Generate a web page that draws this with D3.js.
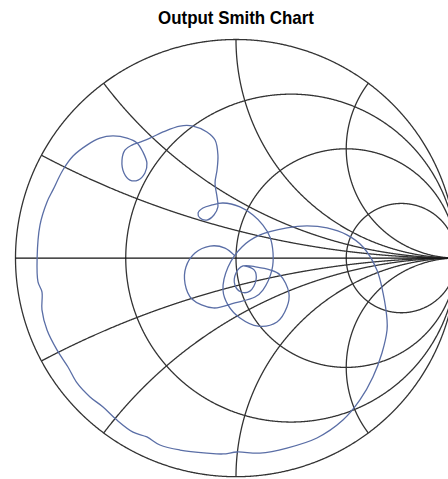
<!DOCTYPE html>
<html>
<head>
<meta charset="utf-8">
<script src="https://cdn.jsdelivr.net/npm/d3@7"></script>
<style>
  body { margin: 0; background: #fff; }
</style>
</head>
<body>
<script>
// Grid values
const resistances = [1 / 3, 1, 3];
const reactances = [0.25, 0.5, 1, 2, -0.25, -0.5, -1, -2];

// Reflection coefficient trace (real, imaginary)
const traceRe = [0.036, 0.082, 0.091, 0.063, 0.023, -0.005, 0, 0.032, 0.095, 0.154, 0.200, 0.240, 0.231, 0.186, 0.100, 0.018, -0.036, -0.059, -0.036, 0.027, 0.109, 0.231, 0.322, 0.413, 0.503, 0.576, 0.639, 0.667, 0.685, 0.685, 0.662, 0.621, 0.562, 0.485, 0.367, 0.231, 0.109, 0.005, -0.059, -0.132, -0.254, -0.345, -0.404, -0.467, -0.540, -0.603, -0.662, -0.721, -0.762, -0.812, -0.857, -0.880, -0.880, -0.898, -0.902, -0.889, -0.857, -0.830, -0.785, -0.739, -0.676, -0.617, -0.558, -0.494, -0.449, -0.422, -0.404, -0.413, -0.444, -0.481, -0.508, -0.517, -0.503, -0.472, -0.435, -0.390, -0.331, -0.254, -0.195, -0.132, -0.095, -0.082, -0.086, -0.095, -0.086, -0.082, -0.100, -0.132, -0.163, -0.172, -0.150, -0.109, -0.059, 0.018, 0.077, 0.122, 0.154, 0.168, 0.163, 0.122, 0.086, -0.005, -0.104, -0.200, -0.231, -0.227, -0.186, -0.118, -0.050, -0.005];
const traceIm = [-0.036, -0.054, -0.100, -0.151, -0.155, -0.123, -0.068, -0.036, -0.041, -0.054, -0.077, -0.160, -0.224, -0.292, -0.311, -0.274, -0.215, -0.146, -0.041, 0.051, 0.106, 0.138, 0.147, 0.138, 0.106, 0.051, -0.054, -0.160, -0.283, -0.329, -0.434, -0.544, -0.649, -0.741, -0.823, -0.869, -0.892, -0.887, -0.896, -0.892, -0.878, -0.855, -0.818, -0.796, -0.741, -0.681, -0.635, -0.571, -0.498, -0.420, -0.329, -0.237, -0.155, -0.109, 0.000, 0.151, 0.257, 0.312, 0.403, 0.467, 0.517, 0.549, 0.559, 0.549, 0.527, 0.485, 0.435, 0.389, 0.357, 0.357, 0.389, 0.449, 0.495, 0.517, 0.531, 0.549, 0.577, 0.604, 0.604, 0.577, 0.540, 0.472, 0.403, 0.344, 0.280, 0.234, 0.197, 0.174, 0.183, 0.206, 0.229, 0.243, 0.252, 0.234, 0.197, 0.151, 0.097, 0.023, -0.054, -0.146, -0.178, -0.205, -0.228, -0.187, -0.118, -0.041, 0.023, 0.055, 0.046, 0.010];

const title = "Output Smith Chart";

const w = 448;
const h = 479;

const svg = d3.select("body")
              .append("svg")
              .attr("width", w)
              .attr("height", h);

// Scales: gamma plane to pixels
const xScale = d3.scaleLinear()
                 .domain([-1, 1])
                 .range([15.5, 456.5]);
const yScale = d3.scaleLinear()
                 .domain([-1, 1])
                 .range([476.7, 39.5]);

const line = d3.line()
               .x((d) => xScale(d[0]))
               .y((d) => yScale(d[1]));

// z -> gamma
const gamma = function(r, x) {
  const den = (r + 1) * (r + 1) + x * x;
  return [(r * r + x * x - 1) / den, (2 * x) / den];
};

const grid = svg.append("g")
                .attr("fill", "none")
                .attr("stroke", "#333")
                .attr("stroke-width", 1.3);

// outer circle (r = 0) and resistance circles
[0].concat(resistances).forEach((r) => {
  const pts = d3.range(-Math.PI / 2 + 0.0005, Math.PI / 2, 0.002)
                .map((t) => gamma(r, Math.tan(t)));
  pts.push([1, 0]);
  grid.append("path").attr("d", line(pts));
});

// reactance arcs
reactances.forEach((x) => {
  const pts = d3.range(0, Math.PI / 2, 0.002)
                .map((t) => gamma(Math.tan(t), x));
  pts.push([1, 0]);
  grid.append("path").attr("d", line(pts));
});

// real axis
grid.append("path")
    .attr("stroke", "#111")
    .attr("d", line([[-1, 0], [1, 0]]));

// trace
const trace = traceRe.map((d, i) => [d, traceIm[i]]);
svg.append("path")
   .attr("fill", "none")
   .attr("stroke", "#5a6ea6")
   .attr("stroke-width", 1.3)
   .attr("d", line.curve(d3.curveCatmullRom)(trace));

// title
svg.append("text")
   .attr("x", 236)
   .attr("y", 24)
   .attr("text-anchor", "middle")
   .attr("font-family", "'Liberation Sans Narrow', 'Arial Narrow', 'Liberation Sans', sans-serif")
   .attr("font-weight", "bold")
   .attr("font-size", 19)
   .attr("textLength", 156)
   .attr("lengthAdjust", "spacingAndGlyphs")
   .text(title);
</script>
</body>
</html>
